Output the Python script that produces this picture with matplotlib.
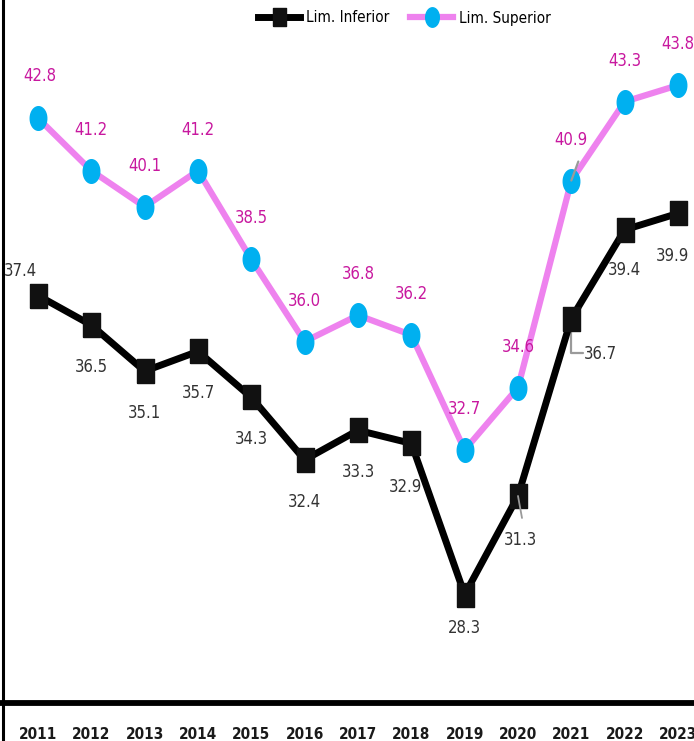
import matplotlib
matplotlib.use('Agg')
import matplotlib.pyplot as plt
import numpy as np
from matplotlib.lines import Line2D
import matplotlib.font_manager as fm

years = [2011, 2012, 2013, 2014, 2015, 2016, 2017, 2018, 2019, 2020, 2021, 2022, 2023]
lim_inf = [37.4, 36.5, 35.1, 35.7, 34.3, 32.4, 33.3, 32.9, 28.3, 31.3, 36.7, 39.4, 39.9]
lim_sup = [42.8, 41.2, 40.1, 41.2, 38.5, 36.0, 36.8, 36.2, 32.7, 34.6, 40.9, 43.3, 43.8]
series_names = ['Lim. Inferior', 'Lim. Superior']

# font: prefer a narrow/condensed face
fonts = fm.fontManager.ttflist
cond_dejavu = [f for f in fonts if f.name == 'DejaVu Sans' and f.stretch in ('condensed', 'semi-condensed')]
if any(f.name == 'Liberation Sans Narrow' for f in fonts):
    plt.rcParams['font.family'] = ['Liberation Sans Narrow', 'DejaVu Sans']
elif cond_dejavu:
    plt.rcParams['font.family'] = ['DejaVu Sans']
    plt.rcParams['font.stretch'] = 'condensed'
else:
    plt.rcParams['font.family'] = ['DejaVu Sans']

W, H = 694, 741
fig = plt.figure(figsize=(W / 100, H / 100), dpi=100)
ax = fig.add_axes([0, 38 / H, 1, 703 / H])
x = np.arange(len(years))
step = 53.33
ax.set_xlim(-38 / step, len(years) - 1 + 16 / step)
ax.set_ylim(25, 25 + 703 / 32.86)

t = np.linspace(0, 2 * np.pi, 60)
ell = list(zip(0.7 * np.cos(t), np.sin(t)))
rect = [(-0.72, -1), (0.72, -1), (0.72, 1), (-0.72, 1), (-0.72, -1)]

pink = '#EE82EE'
blue = '#00B0F0'
lab_pink = '#C8189F'
lab_dark = '#333333'
lead_gray = '#9A9A9A'

ax.plot(x, lim_sup, color=pink, lw=4.5, marker=ell, markersize=17,
        markerfacecolor=blue, markeredgecolor=blue, zorder=3, solid_joinstyle='round')
ax.plot(x, lim_inf, color='black', lw=5, marker=rect, markersize=17,
        markerfacecolor='#111111', markeredgecolor='#111111', zorder=3, solid_joinstyle='miter')

# label offsets (pixels)
inf_off = [(-18, 25)] + [(0, -42)] * 7 + [(0, -33), (2, -44), (29, -35), (0, -40), (-6, -43)]
inf_off[7] = (-6, -44)
sup_off = [(2, 42)] + [(0, 41)] * 12

for i, v in enumerate(lim_inf):
    ax.annotate(f'{v:.1f}', xy=(x[i], v), xytext=inf_off[i], textcoords='offset pixels',
                ha='center', va='center', fontsize=12, color=lab_dark, zorder=5)
for i, v in enumerate(lim_sup):
    ax.annotate(f'{v:.1f}', xy=(x[i], v), xytext=sup_off[i], textcoords='offset pixels',
                ha='center', va='center', fontsize=12, color=lab_pink, zorder=5)

# leader lines
i = years.index(2021)
ax.annotate('', xy=(x[i], lim_inf[i]), xytext=(12, -34), textcoords='offset pixels',
            arrowprops=dict(arrowstyle='-', color=lead_gray, lw=1.6, patchA=None,
                            connectionstyle='angle,angleA=0,angleB=90,rad=0',
                            shrinkA=0, shrinkB=0), zorder=2)
ax.annotate('', xy=(x[i], lim_sup[i]), xytext=(7, 19), textcoords='offset pixels',
            arrowprops=dict(arrowstyle='-', color=lead_gray, lw=1.6, patchA=None,
                            shrinkA=0, shrinkB=0), zorder=4)
i = years.index(2020)
ax.annotate('', xy=(x[i], lim_inf[i]), xytext=(4, -22), textcoords='offset pixels',
            arrowprops=dict(arrowstyle='-', color=lead_gray, lw=1.3, patchA=None,
                            shrinkA=0, shrinkB=0), zorder=4)

for s in ['top', 'right', 'left']:
    ax.spines[s].set_visible(False)
ax.spines['bottom'].set_linewidth(4.2)
ax.spines['bottom'].set_color('black')
ax.set_yticks([])
ax.set_xticks(x)
ax.set_xticklabels([str(y) for y in years], fontsize=11, fontweight='bold', color='#1a1a1a')
ax.tick_params(axis='x', length=0, pad=17)

# left border line
fig.add_artist(Line2D([3 / W, 3 / W], [0, 1], color='black', lw=2.2, transform=fig.transFigure))

# legend
h1 = Line2D([], [], color='black', lw=5, marker=rect, markersize=13,
            markerfacecolor='#111111', markeredgecolor='#111111')
h2 = Line2D([], [], color=pink, lw=4.5, marker=ell, markersize=14,
            markerfacecolor=blue, markeredgecolor=blue)
fig.legend([h1, h2], series_names, loc='center', bbox_to_anchor=(404 / W, 1 - 18 / H),
           ncol=2, frameon=False, fontsize=11, handlelength=2.8, handletextpad=0.35,
           columnspacing=1.4)

fig.savefig('out.png', dpi=100)
